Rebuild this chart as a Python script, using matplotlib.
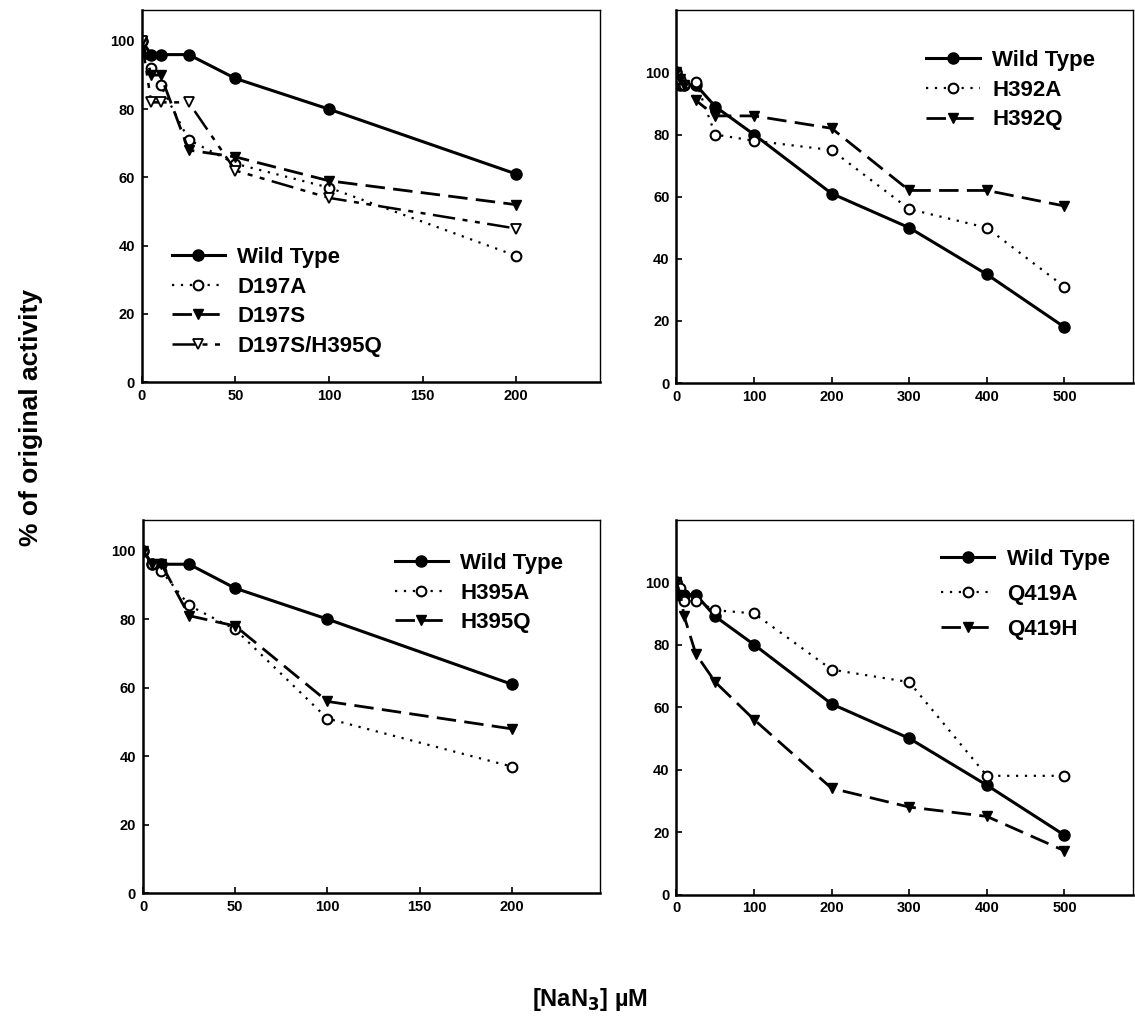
import matplotlib
matplotlib.use("Agg")
import matplotlib.pyplot as plt

plt.rcParams['font.family'] = ['Liberation Sans', 'DejaVu Sans']
plt.rcParams['font.weight'] = 'bold'

# ---------------- data ----------------
x_short = [0, 5, 10, 25, 50, 100, 200]
x_long = [0, 5, 10, 25, 50, 100, 200, 300, 400, 500]

# Panel A (top-left)
a_wt = [100, 96, 96, 96, 89, 80, 61]
a_d197a = [100, 92, 87, 71, 64, 57, 37]
a_d197s = [100, 90, 90, 68, 66, 59, 52]
a_d197s_h395q = [100, 82, 82, 82, 62, 54, 45]

# Panel B (top-right)
b_wt = [100, 96, 96, 96, 89, 80, 61, 50, 35, 18]
b_h392a = [100, 98, 96, 97, 80, 78, 75, 56, 50, 31]
b_h392q = [100, 98, 96, 91, 86, 86, 82, 62, 62, 57]

# Panel C (bottom-left)
c_wt = [100, 96, 96, 96, 89, 80, 61]
c_h395a = [100, 96, 94, 84, 77, 51, 37]
c_h395q = [100, 96, 96, 81, 78, 56, 48]

# Panel D (bottom-right)
d_wt = [100, 96, 96, 96, 89, 80, 61, 50, 35, 19]
d_q419a = [100, 98, 94, 94, 91, 90, 72, 68, 38, 38]
d_q419h = [100, 96, 89, 77, 68, 56, 34, 28, 25, 14]

yticks = [0, 20, 40, 60, 80, 100]
xticks_short = [0, 50, 100, 150, 200]
xticks_long = [0, 100, 200, 300, 400, 500]

# ---------------- styles ----------------
ST_WT = dict(color='black', lw=2.2, ls='-', marker='o', ms=8,
             mfc='black', mec='black')
ST_OPEN = dict(color='black', lw=1.6, ls=(0, (1, 3)), marker='o', ms=7,
               mfc='white', mec='black', mew=1.5)
ST_TRI = dict(color='black', lw=2.0, ls=(0, (7, 3)), marker='v', ms=7.5,
              mfc='black', mec='black')
ST_OTRI = dict(color='black', lw=1.8, ls=(0, (9, 3, 2, 3, 2, 3)), marker='v',
               ms=7, mfc='white', mec='black', mew=1.3)

fig = plt.figure(figsize=(11.35, 10.27), dpi=100)

def make_ax(rect, xlim, ylim, xticks):
    ax = fig.add_axes(rect)
    ax.set_xlim(*xlim)
    ax.set_ylim(*ylim)
    ax.set_xticks(xticks)
    ax.set_yticks(yticks)
    ax.tick_params(direction='in', length=4, width=1.2, labelsize=10.5,
                   pad=5)
    for lab in ax.get_xticklabels() + ax.get_yticklabels():
        lab.set_fontweight('bold')
    ax.spines['left'].set_linewidth(1.8)
    ax.spines['bottom'].set_linewidth(1.8)
    ax.spines['top'].set_linewidth(1.0)
    ax.spines['right'].set_linewidth(1.0)
    return ax

def legend(ax, anchor, spacing=0.39):
    leg = ax.legend(loc='upper left', bbox_to_anchor=anchor, frameon=False,
                    prop={'weight': 'bold', 'size': 16}, handlelength=2.4,
                    handletextpad=0.55, labelspacing=spacing, borderpad=0,
                    borderaxespad=0)
    return leg

# Panel A
axA = make_ax([0.125, 0.628, 0.404, 0.362], (0, 245), (0, 109), xticks_short)
axA.plot(x_short, a_wt, label='Wild Type', **ST_WT)
axA.plot(x_short, a_d197a, label='D197A', **ST_OPEN)
axA.plot(x_short, a_d197s, label='D197S', **ST_TRI)
axA.plot(x_short, a_d197s_h395q, label='D197S/H395Q', **ST_OTRI)
legend(axA, (0.065, 0.3635))

# Panel B
axB = make_ax([0.596, 0.627, 0.402, 0.363], (0, 588), (0, 120), xticks_long)
axB.plot(x_long, b_wt, label='Wild Type', **ST_WT)
axB.plot(x_long, b_h392a, label='H392A', **ST_OPEN)
axB.plot(x_long, b_h392q, label='H392Q', **ST_TRI)
legend(axB, (0.548, 0.893))

# Panel C
axC = make_ax([0.126, 0.130, 0.403, 0.364], (0, 248), (0, 109), xticks_short)
axC.plot(x_short, c_wt, label='Wild Type', **ST_WT)
axC.plot(x_short, c_h395a, label='H395A', **ST_OPEN)
axC.plot(x_short, c_h395q, label='H395Q', **ST_TRI)
legend(axC, (0.55, 0.911))

# Panel D
axD = make_ax([0.596, 0.129, 0.402, 0.365], (0, 588), (0, 120), xticks_long)
axD.plot(x_long, d_wt, label='Wild Type', **ST_WT)
axD.plot(x_long, d_q419a, label='Q419A', **ST_OPEN)
axD.plot(x_long, d_q419h, label='Q419H', **ST_TRI)
legend(axD, (0.58, 0.921), spacing=0.63)

fig.text(0.027, 0.593, '% of original activity', rotation=90, ha='center',
         va='center', fontsize=19, fontweight='bold')
fig.text(0.52, 0.027, r'[NaN$_\mathbf{3}$] µM', ha='center', va='center',
         fontsize=17, fontweight='bold')

fig.savefig('out.png', dpi=100)
